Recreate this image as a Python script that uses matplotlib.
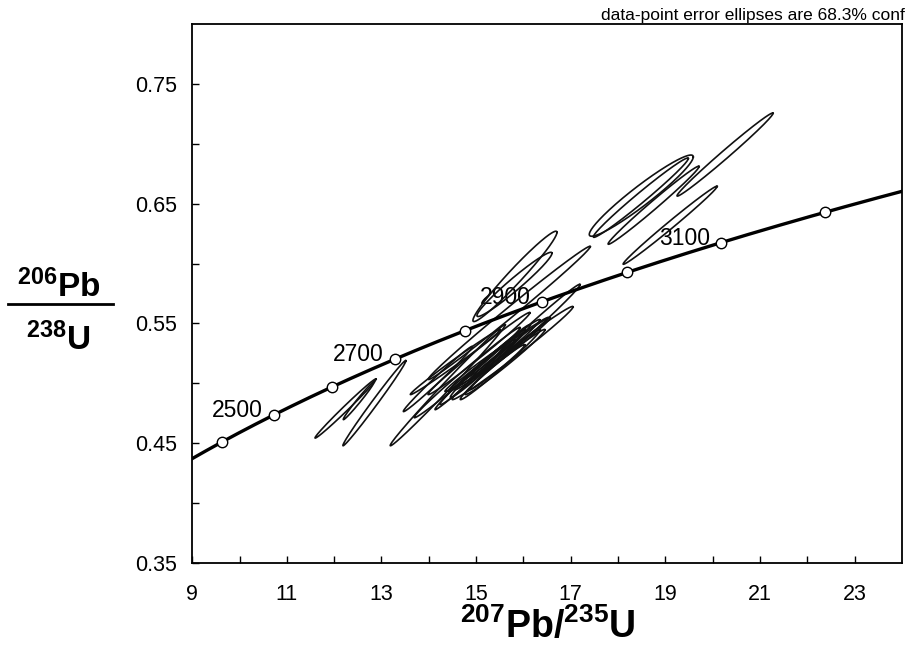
import numpy as np
import matplotlib
matplotlib.use("Agg")
import matplotlib.pyplot as plt
from matplotlib.ticker import FixedLocator, NullFormatter

plt.rcParams['font.family'] = ['Liberation Sans', 'DejaVu Sans']
plt.rcParams['mathtext.fontset'] = 'custom'
plt.rcParams['mathtext.rm'] = 'Liberation Sans'
plt.rcParams['mathtext.bf'] = 'Liberation Sans:bold'

# decay constants (per year)
lambda_238 = 1.55125e-10
lambda_235 = 9.8485e-10

# concordia: age range of the curve and the marked ages (Ma)
curve_age_start = 2300
curve_age_end = 3400
marker_ages = [2400, 2500, 2600, 2700, 2800, 2900, 3000, 3100, 3200]
label_ages = [2500, 2700, 2900, 3100]

# error ellipses: 207Pb/235U, 206Pb/238U, their errors and error correlation
ell_x = [12.24, 12.52, 12.85, 14.40, 14.19, 14.56, 14.81, 15.06, 15.82, 15.81,
         15.70, 15.77, 16.14, 15.08, 15.30, 15.45, 15.08, 15.61, 15.35, 14.87,
         15.72, 18.49, 18.48, 18.75, 20.26, 19.10, 15.51, 15.47, 15.45]
ell_y = [0.479, 0.4856, 0.4835, 0.4985, 0.5036, 0.5178, 0.509, 0.5249, 0.5893, 0.5826,
         0.5588, 0.5253, 0.545, 0.5115, 0.5186, 0.524, 0.5149, 0.5178, 0.522, 0.5052,
         0.529, 0.6567, 0.655, 0.6487, 0.691, 0.632, 0.5157, 0.524, 0.5136]
ell_sx = [0.645, 0.328, 0.666, 1.216, 0.729, 0.951, 1.12, 1.078, 0.888, 0.793,
          1.712, 1.279, 1.057, 0.846, 0.846, 0.899, 0.74, 0.846, 0.687, 0.74,
          0.846, 1.099, 1.004, 0.962, 1.015, 0.994, 0.846, 1.057, 0.58]
ell_sy = [0.0247, 0.0159, 0.0356, 0.0506, 0.0272, 0.0272, 0.0377, 0.0343, 0.0377, 0.0268,
          0.0556, 0.0389, 0.0377, 0.0293, 0.0305, 0.0293, 0.0218, 0.0272, 0.023, 0.0272,
          0.026, 0.0339, 0.0331, 0.0326, 0.0347, 0.0326, 0.0293, 0.031, 0.0188]
ell_rho = [0.993, 0.987, 0.9936, 0.9954, 0.992, 0.994, 0.9934, 0.9925, 0.974, 0.970,
           0.9954, 0.9914, 0.993, 0.9887, 0.989, 0.989, 0.9905, 0.988, 0.990, 0.992,
           0.990, 0.954, 0.987, 0.991, 0.992, 0.9934, 0.989, 0.993, 0.986]


def concordia(age_ma):
    t = np.asarray(age_ma) * 1e6
    return np.exp(lambda_235 * t) - 1, np.exp(lambda_238 * t) - 1


fig = plt.figure(figsize=(9.05, 6.5), dpi=100)
ax = fig.add_axes([0.2124, 0.1338, 0.7843, 0.8293])

# ellipses
theta = np.linspace(0, 2 * np.pi, 300)
for cx, cy, sx, sy, r in zip(ell_x, ell_y, ell_sx, ell_sy, ell_rho):
    ex = cx + sx * np.cos(theta)
    ey = cy + sy * (r * np.cos(theta) + np.sqrt(1 - r ** 2) * np.sin(theta))
    ax.plot(ex, ey, color='#111111', lw=1.2, zorder=3)

# concordia curve and age markers
cur_x, cur_y = concordia(np.linspace(curve_age_start, curve_age_end, 400))
ax.plot(cur_x, cur_y, color='black', lw=2.4, zorder=4)
mx, my = concordia(marker_ages)
ax.plot(mx, my, 'o', ms=7.5, mfc='white', mec='black', mew=1.0, zorder=5)
for age in label_ages:
    lx, ly = concordia(age)
    ax.annotate(str(age), (lx, ly), xytext=(-11, -2), textcoords='offset pixels',
                ha='right', va='baseline', fontsize=16.5, zorder=2)

ax.set_xlim(9, 24)
ax.set_ylim(0.35, 0.80)

ax.xaxis.set_major_locator(FixedLocator([9, 11, 13, 15, 17, 19, 21, 23]))
ax.xaxis.set_minor_locator(FixedLocator([10, 12, 14, 16, 18, 20, 22]))
ax.yaxis.set_major_locator(FixedLocator([0.35, 0.45, 0.55, 0.65, 0.75]))
ax.yaxis.set_minor_locator(FixedLocator([0.40, 0.50, 0.60, 0.70]))
ax.xaxis.set_minor_formatter(NullFormatter())
ax.yaxis.set_minor_formatter(NullFormatter())
ax.set_xticklabels(['9', '11', '13', '15', '17', '19', '21', '23'])
ax.set_yticklabels(['0.35', '0.45', '0.55', '0.65', '0.75'])
ax.tick_params(which='both', direction='in', length=5, width=1, labelsize=15.5)
ax.tick_params(axis='x', which='major', pad=15)
ax.tick_params(axis='y', which='major', pad=11)
for s in ax.spines.values():
    s.set_linewidth(1.3)

# axis titles
fig.text(0.605, 0.018, r'$\mathbf{^{207}Pb/^{235}U}$', ha='center', va='baseline', fontsize=27)
fig.text(0.065, 1 - 297 / 650, r'$\mathbf{^{206}Pb}$', ha='center', va='baseline', fontsize=24)
fig.text(0.064, 1 - 350 / 650, r'$\mathbf{^{238}U}$', ha='center', va='baseline', fontsize=24)
fig.add_artist(plt.Line2D([8 / 905, 113 / 905], [1 - 304 / 650, 1 - 304 / 650],
                          color='black', lw=2, transform=fig.transFigure))

fig.text(1.0, 1 - 20 / 650, 'data-point error ellipses are 68.3% conf',
         ha='right', va='baseline', fontsize=12.5)

fig.savefig('out.png', dpi=100)
